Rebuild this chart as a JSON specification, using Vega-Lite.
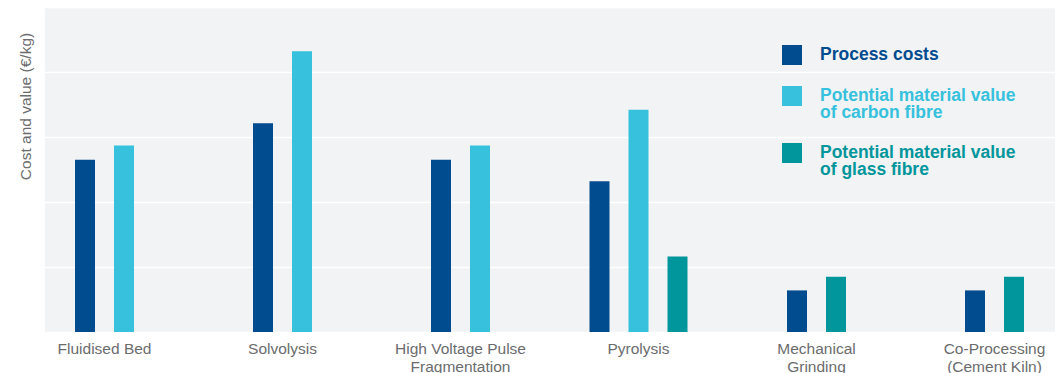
{
  "$schema": "https://vega.github.io/schema/vega-lite/v6.json",
  "width": 1010,
  "height": 325,
  "autosize": {"type": "none"},
  "padding": {"left": 45, "top": 7, "right": 8, "bottom": 41},
  "background": "white",
  "config": {
    "font": "Liberation Sans",
    "view": {"fill": "#f2f3f5", "stroke": null}
  },
  "data": {
    "values": [
      {"method": "Fluidised Bed", "series": "Process costs", "value": 2.65},
      {"method": "Fluidised Bed", "series": "Potential material value of carbon fibre", "value": 2.87},
      {"method": "Solvolysis", "series": "Process costs", "value": 3.21},
      {"method": "Solvolysis", "series": "Potential material value of carbon fibre", "value": 4.32},
      {"method": "High Voltage Pulse Fragmentation", "series": "Process costs", "value": 2.65},
      {"method": "High Voltage Pulse Fragmentation", "series": "Potential material value of carbon fibre", "value": 2.87},
      {"method": "Pyrolysis", "series": "Process costs", "value": 2.32},
      {"method": "Pyrolysis", "series": "Potential material value of carbon fibre", "value": 3.42},
      {"method": "Pyrolysis", "series": "Potential material value of glass fibre", "value": 1.16},
      {"method": "Mechanical Grinding", "series": "Process costs", "value": 0.64},
      {"method": "Mechanical Grinding", "series": "Potential material value of glass fibre", "value": 0.85},
      {"method": "Co-Processing (Cement Kiln)", "series": "Process costs", "value": 0.64},
      {"method": "Co-Processing (Cement Kiln)", "series": "Potential material value of glass fibre", "value": 0.85}
    ]
  },
  "transform": [
    {"joinaggregate": [{"op": "count", "as": "n"}], "groupby": ["method"]},
    {"window": [{"op": "row_number", "as": "slot"}], "groupby": ["method"]}
  ],
  "encoding": {
    "x": {
      "field": "method",
      "type": "nominal",
      "scale": {
        "domain": ["Fluidised Bed", "Solvolysis", "High Voltage Pulse Fragmentation", "Pyrolysis", "Mechanical Grinding", "Co-Processing (Cement Kiln)"],
        "range": [-29.5, 1038.5],
        "paddingInner": 0,
        "paddingOuter": 0
      },
      "axis": {
        "title": null,
        "domain": false,
        "ticks": false,
        "grid": false,
        "labelAngle": 0,
        "labelPadding": 9,
        "labelFontSize": 15.5,
        "labelColor": "#6b6c6e",
        "labelLineHeight": 18.5,
        "labelBaseline": "top",
        "labelLimit": 300,
        "labelExpr": "datum.label == 'High Voltage Pulse Fragmentation' ? ['High Voltage Pulse', 'Fragmentation'] : datum.label == 'Mechanical Grinding' ? ['Mechanical', 'Grinding'] : datum.label == 'Co-Processing (Cement Kiln)' ? ['Co-Processing', '(Cement Kiln)'] : datum.label"
      }
    },
    "y": {
      "field": "value",
      "type": "quantitative",
      "scale": {"domain": [0, 5], "nice": false},
      "axis": {
        "title": "Cost and value (€/kg)",
        "values": [0, 1, 2, 3, 4, 5],
        "labels": false,
        "ticks": false,
        "domain": false,
        "grid": true,
        "gridColor": "#ffffff",
        "gridWidth": 1.5,
        "titleFontSize": 15.5,
        "titleFontWeight": "normal",
        "titleColor": "#6b6c6e",
        "titleAngle": -90,
        "titleAlign": "center",
        "titleBaseline": "middle",
        "titleX": -20,
        "titleY": 99
      }
    },
    "color": {
      "field": "series",
      "type": "nominal",
      "scale": {
        "domain": ["Process costs", "Potential material value of carbon fibre", "Potential material value of glass fibre"],
        "range": ["#014b8f", "#37c1dd", "#00969c"]
      },
      "legend": {
        "title": null,
        "orient": "none",
        "legendX": 737,
        "legendY": 38,
        "padding": 0,
        "symbolType": "square",
        "symbolSize": 400,
        "symbolStrokeWidth": 0,
        "symbolOpacity": 1,
        "labelFontSize": 17.5,
        "labelFontWeight": "bold",
        "labelOffset": 18,
        "labelLimit": 400,
        "rowPadding": 21,
        "labelExpr": "indexof(datum.label, ' of ') > 0 ? [slice(datum.label, 0, indexof(datum.label, ' of ')), slice(datum.label, indexof(datum.label, ' of ') + 1)] : datum.label",
        "encode": {
          "labels": {"update": {"fill": {"scale": "color", "field": "value"}, "lineHeight": {"value": 17}}}
        }
      }
    }
  },
  "layer": [
    {
      "transform": [{"filter": "datum.n == 3"}],
      "mark": {"type": "bar"},
      "encoding": {
        "xOffset": {"field": "slot", "type": "ordinal", "scale": {"range": [40, 138], "paddingInner": 0.4872, "paddingOuter": 0}}
      }
    },
    {
      "transform": [{"filter": "datum.n == 2"}],
      "mark": {"type": "bar"},
      "encoding": {
        "xOffset": {"field": "slot", "type": "ordinal", "scale": {"range": [59.5, 118.5], "paddingInner": 0.4872, "paddingOuter": 0}}
      }
    }
  ],
  "resolve": {"scale": {"xOffset": "independent"}}
}
